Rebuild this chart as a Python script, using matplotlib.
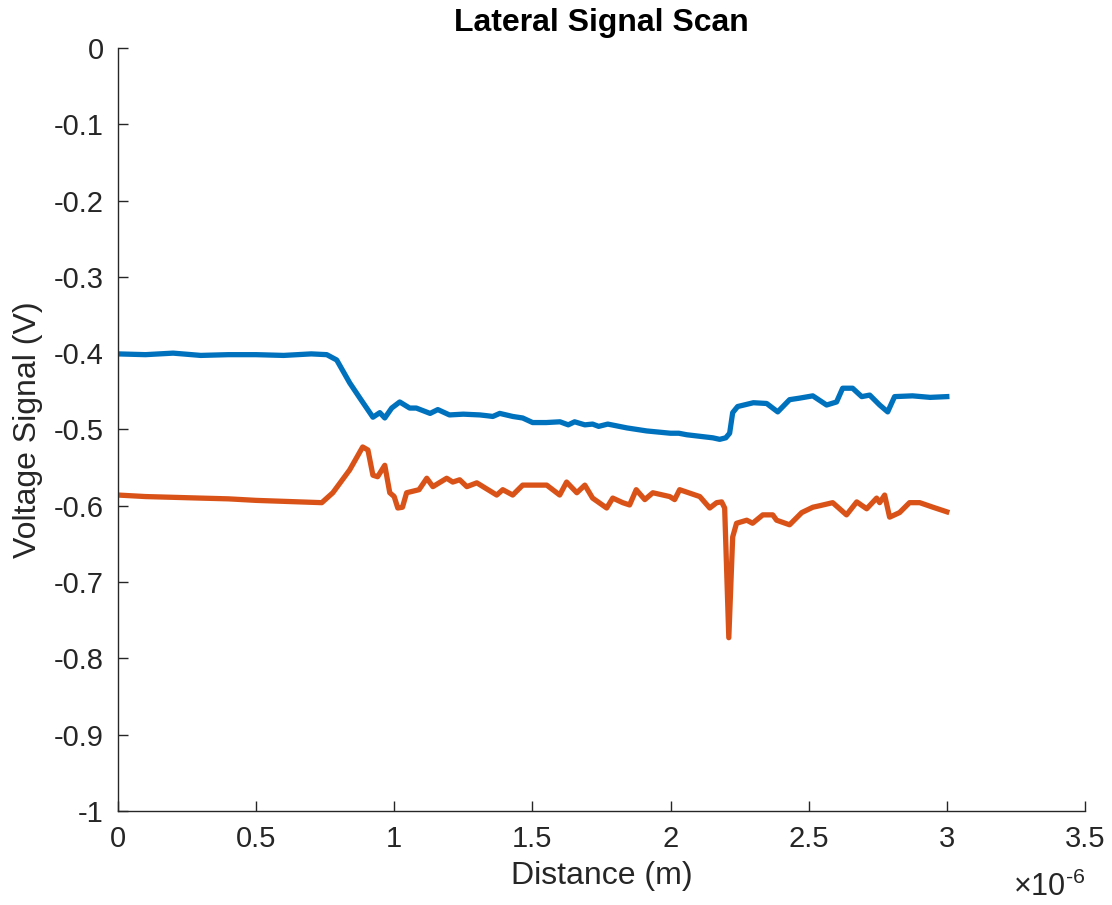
import matplotlib
matplotlib.use("Agg")
import matplotlib.pyplot as plt
from matplotlib.ticker import FuncFormatter

plt.rcParams['font.family'] = ['Liberation Sans', 'DejaVu Sans']
plt.rcParams['axes.unicode_minus'] = False
plt.rcParams['mathtext.fontset'] = 'custom'
plt.rcParams['mathtext.rm'] = 'Liberation Sans'

# distance in um (scaled to metres when plotted), signal in volts
blue_x = [0.0, 0.1, 0.2, 0.3, 0.4, 0.5, 0.6, 0.7, 0.756, 0.792, 0.839, 0.876, 0.923,
          0.948, 0.966, 0.991, 1.02, 1.056, 1.08, 1.13, 1.158, 1.20, 1.25, 1.31,
          1.335, 1.357, 1.382, 1.429, 1.465, 1.501, 1.55, 1.6, 1.63, 1.653, 1.69,
          1.718, 1.74, 1.773, 1.842, 1.914, 2.0, 2.03, 2.059, 2.153, 2.178, 2.2,
          2.214, 2.225, 2.243, 2.30, 2.348, 2.388, 2.431, 2.467, 2.515, 2.565,
          2.601, 2.623, 2.659, 2.692, 2.721, 2.757, 2.786, 2.811, 2.876, 2.94, 3.0]
blue_y = [-0.401, -0.402, -0.400, -0.403, -0.402, -0.402, -0.403, -0.401, -0.402,
          -0.409, -0.439, -0.459, -0.484, -0.478, -0.485, -0.472, -0.464, -0.472,
          -0.472, -0.479, -0.474, -0.481, -0.480, -0.481, -0.482, -0.483, -0.479,
          -0.483, -0.485, -0.491, -0.491, -0.490, -0.494, -0.490, -0.494, -0.493,
          -0.496, -0.493, -0.498, -0.502, -0.505, -0.505, -0.507, -0.511, -0.513,
          -0.511, -0.505, -0.478, -0.470, -0.465, -0.466, -0.477, -0.461, -0.459,
          -0.456, -0.468, -0.464, -0.446, -0.446, -0.457, -0.455, -0.468, -0.477,
          -0.457, -0.456, -0.458, -0.457]

orange_x = [0.0, 0.1, 0.2, 0.297, 0.4, 0.5, 0.658, 0.738, 0.778, 0.839, 0.886,
            0.905, 0.923, 0.94, 0.966, 0.984, 1.0, 1.013, 1.03, 1.045, 1.09, 1.118,
            1.14, 1.19, 1.212, 1.237, 1.263, 1.299, 1.371, 1.393, 1.429, 1.465,
            1.552, 1.599, 1.624, 1.661, 1.69, 1.718, 1.769, 1.791, 1.827, 1.852,
            1.876, 1.907, 1.936, 1.997, 2.015, 2.033, 2.106, 2.142, 2.167, 2.185,
            2.196, 2.211, 2.225, 2.239, 2.276, 2.297, 2.334, 2.37, 2.384, 2.431,
            2.475, 2.515, 2.54, 2.587, 2.637, 2.674, 2.71, 2.746, 2.757, 2.775,
            2.793, 2.829, 2.865, 2.902, 2.95, 3.0]
orange_y = [-0.586, -0.588, -0.589, -0.590, -0.591, -0.593, -0.595, -0.596, -0.583,
            -0.553, -0.523, -0.527, -0.560, -0.562, -0.547, -0.583, -0.588, -0.603,
            -0.602, -0.583, -0.579, -0.564, -0.575, -0.564, -0.569, -0.566, -0.575,
            -0.570, -0.586, -0.579, -0.586, -0.573, -0.573, -0.586, -0.569, -0.583,
            -0.573, -0.590, -0.603, -0.590, -0.596, -0.599, -0.579, -0.592, -0.583,
            -0.588, -0.592, -0.579, -0.588, -0.603, -0.596, -0.595, -0.603, -0.773,
            -0.641, -0.623, -0.619, -0.623, -0.612, -0.612, -0.619, -0.625, -0.609,
            -0.602, -0.600, -0.596, -0.612, -0.595, -0.604, -0.590, -0.596, -0.586,
            -0.615, -0.609, -0.596, -0.596, -0.602, -0.608]

x_ticks = [0, 0.5, 1, 1.5, 2, 2.5, 3, 3.5]
y_ticks = [0, -0.1, -0.2, -0.3, -0.4, -0.5, -0.6, -0.7, -0.8, -0.9, -1]

ink = '#262626'

fig = plt.figure(figsize=(11.12, 9.05), dpi=100)
ax = fig.add_axes([0.106, 0.104, 0.8697, 0.843])

ax.plot([v * 1e-6 for v in blue_x], blue_y, color='#0072BD', lw=3.8)
ax.plot([v * 1e-6 for v in orange_x], orange_y, color='#D95319', lw=3.8)

ax.set_xlim(0, 3.5e-6)
ax.set_ylim(-1, 0)
ax.set_xticks([t * 1e-6 for t in x_ticks])
ax.set_yticks(y_ticks)
ax.xaxis.set_major_formatter(FuncFormatter(lambda v, p: f'{v * 1e6:g}'))
ax.yaxis.set_major_formatter(FuncFormatter(lambda v, p: f'{v:g}'))

for s in ['top', 'right']:
    ax.spines[s].set_visible(False)
for s in ['left', 'bottom']:
    ax.spines[s].set_color(ink)
    ax.spines[s].set_linewidth(1.0)
ax.tick_params(direction='in', length=7, width=1.0, colors=ink,
               labelsize=21, pad=10)

ax.set_xlabel('Distance (m)', fontsize=23, color=ink, labelpad=6)
ax.set_ylabel('Voltage Signal (V)', fontsize=23, color=ink, labelpad=8)
ax.set_title('Lateral Signal Scan', fontsize=23, fontweight='bold', pad=12)
ax.text(1.0, -0.08, '×10$^{\\text{-6}}$', transform=ax.transAxes,
        ha='right', va='top', fontsize=22, color=ink)

fig.savefig('out.png', dpi=100)
